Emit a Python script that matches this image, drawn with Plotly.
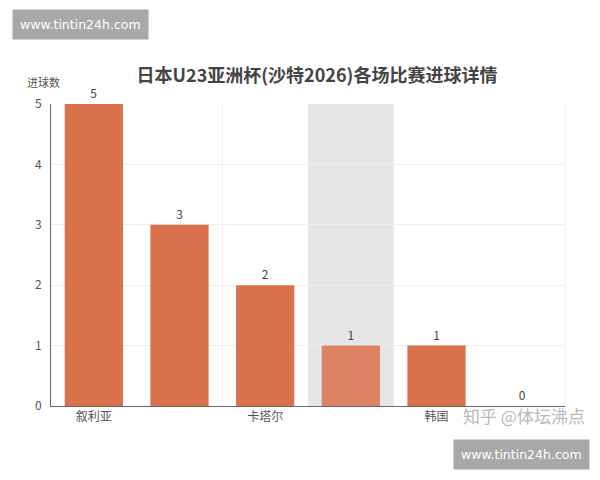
import plotly.graph_objects as go

# Japan U23 matches: opponents and goals scored
opponents = ["叙利亚", "阿联酋", "卡塔尔", "约旦", "韩国", "中国"]
goals = [5, 3, 2, 1, 1, 0]
shown_labels = ["叙利亚", "卡塔尔", "韩国"]
y_ticks = [0, 1, 2, 3, 4, 5]

bar_color = "#d9734e"
hover_color = "#dd8263"
colors = [hover_color if i == 3 else bar_color for i in range(len(opponents))]

font = "Noto Sans CJK SC"

fig = go.Figure()
fig.add_trace(go.Bar(
    x=opponents,
    y=goals,
    marker=dict(color=colors, line=dict(width=0)),
    text=[str(g) for g in goals],
    textposition="outside",
    textfont=dict(size=12, color="#444444", family=font),
    cliponaxis=False,
    width=0.68,
))

# highlighted category band (hover state)
fig.add_shape(type="rect", xref="x", yref="paper", x0=2.5, x1=3.5, y0=0, y1=1,
              fillcolor="#e6e6e6", line=dict(width=0), layer="below")
# vertical split lines every second category + right border
for xv in [1.5, 3.5]:
    fig.add_shape(type="line", xref="x", yref="paper", x0=xv, x1=xv, y0=0, y1=1,
                  line=dict(color="#eeeeee", width=1), layer="below")
fig.add_shape(type="line", xref="paper", yref="paper", x0=1, x1=1, y0=0, y1=1,
              line=dict(color="#eeeeee", width=1), layer="below")

fig.update_layout(
    width=600, height=480,
    margin=dict(l=43, r=43, t=96, b=82),
    paper_bgcolor="white", plot_bgcolor="white",
    showlegend=False,
    font=dict(family=font, color="#555555"),
    title=dict(text="<b>日本U23亚洲杯(沙特2026)各场比赛进球详情</b>",
               x=0.515, xanchor="center", y=0.858, yanchor="middle",
               font=dict(size=18, color="#444444", family=font)),
    xaxis=dict(
        type="category",
        tickmode="array", tickvals=shown_labels, ticktext=shown_labels,
        showgrid=False,
        showline=True, linecolor="#666666", linewidth=1,
        ticks="", tickfont=dict(size=12, color="#555555"),
        fixedrange=True,
    ),
    yaxis=dict(
        range=[0, 5], tickvals=y_ticks,
        showgrid=True, gridcolor="#eeeeee",
        showline=True, linecolor="#666666", linewidth=1,
        zeroline=False, ticks="", ticklabelstandoff=6,
        tickfont=dict(size=12, color="#555555"),
    ),
    annotations=[
        dict(text="进球数", xref="paper", yref="paper", x=-0.014, y=1.074,
             xanchor="center", yanchor="middle", showarrow=False,
             font=dict(size=11, color="#555555")),
        dict(text="www.tintin24h.com", xref="paper", yref="paper",
             x=-0.076, y=1.262, xanchor="left", yanchor="middle",
             showarrow=False, bgcolor="#a8a8a8", borderpad=7,
             font=dict(size=12.5, color="white", family="DejaVu Sans")),
        dict(text="www.tintin24h.com", xref="paper", yref="paper",
             x=1.049, y=-0.162, xanchor="right", yanchor="middle",
             showarrow=False, bgcolor="#a8a8a8", borderpad=7,
             font=dict(size=12.5, color="white", family="DejaVu Sans")),
        dict(text="知乎 @体坛沸点", xref="paper", yref="paper",
             x=1.04, y=-0.03, xanchor="right", yanchor="middle",
             showarrow=False, borderpad=0,
             font=dict(size=17, color="#b8b8b8")),
    ],
)

fig.write_html("out.html")
